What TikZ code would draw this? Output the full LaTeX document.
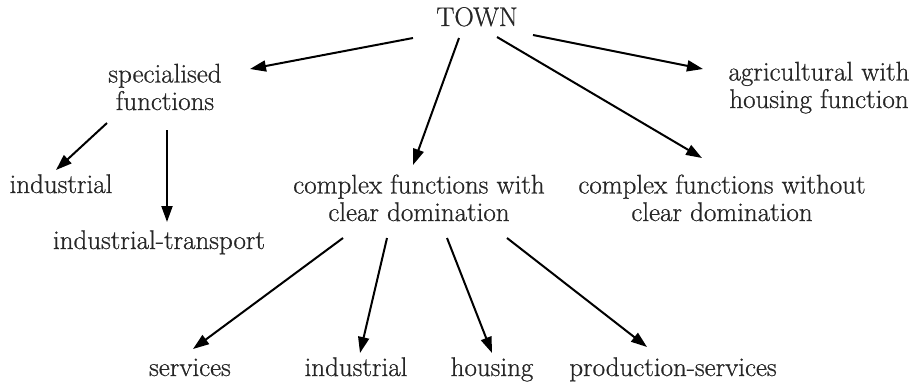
\documentclass[tikz,border=0pt]{standalone}
\usepackage{fontspec}
\usepackage{tikz}
\usetikzlibrary{arrows.meta}
\newfontfamily\lblfont{Latin Modern Roman}[FakeBold=0.7]

\begin{document}
\begin{tikzpicture}[x=1pt, y=-1pt, >={Triangle[length=16pt,width=11pt]},
    lbl/.style={font=\lblfont\fontsize{27}{27.5}\selectfont, text=black!85, inner sep=0pt, anchor=base, align=center},
    arr/.style={->, line width=2pt}]
\useasboundingbox (0,0) rectangle (917,381);
% top level (base = last line)
\node[lbl] (town) at (477,26) {TOWN};
\node[lbl] (spec) at (165,110) {specialised\\functions};
\node[lbl] (agri) at (819,108) {agricultural with\\housing function};
\node[lbl] (cwith) at (419,221) {complex functions with\\clear domination};
\node[lbl] (cwo) at (722,221) {complex functions without\\clear domination};
% specialised
\node[lbl] (ind) at (61,193) {industrial};
\node[lbl] (indtr) at (159,249) {industrial-transport};
% clear domination
\node[lbl] (serv) at (190,376) {services};
\node[lbl] (indb) at (356,376) {industrial};
\node[lbl] (hous) at (492,376) {housing};
\node[lbl] (prod) at (673,376) {production-services};

% arrows from town
\draw[arr] ([shift={(-64,12)}]town.base) -- ([shift={(85,-41)}]spec.base);
\draw[arr] ([shift={(-18,12)}]town.base) -- ([shift={(-6,-56)}]cwith.base);
\draw[arr] ([shift={(20,11)}]town.base) -- ([shift={(-20,-63)}]cwo.base);
\draw[arr] ([shift={(56,9)}]town.base) -- ([shift={(-116,-39)}]agri.base);
% arrows from specialised
\draw[arr] ([shift={(-58,13)}]spec.base) -- ([shift={(-5,-23)}]ind.base);
\draw[arr] ([shift={(2,20)}]spec.base) -- ([shift={(8,-27)}]indtr.base);
% arrows from clear domination
\draw[arr] ([shift={(-76,17)}]cwith.base) -- ([shift={(3,-27)}]serv.base);
\draw[arr] ([shift={(-32,17)}]cwith.base) -- ([shift={(4,-23)}]indb.base);
\draw[arr] ([shift={(28,17)}]cwith.base) -- ([shift={(0,-23)}]hous.base);
\draw[arr] ([shift={(88,17)}]cwith.base) -- ([shift={(-26,-29)}]prod.base);
\end{tikzpicture}
\end{document}
